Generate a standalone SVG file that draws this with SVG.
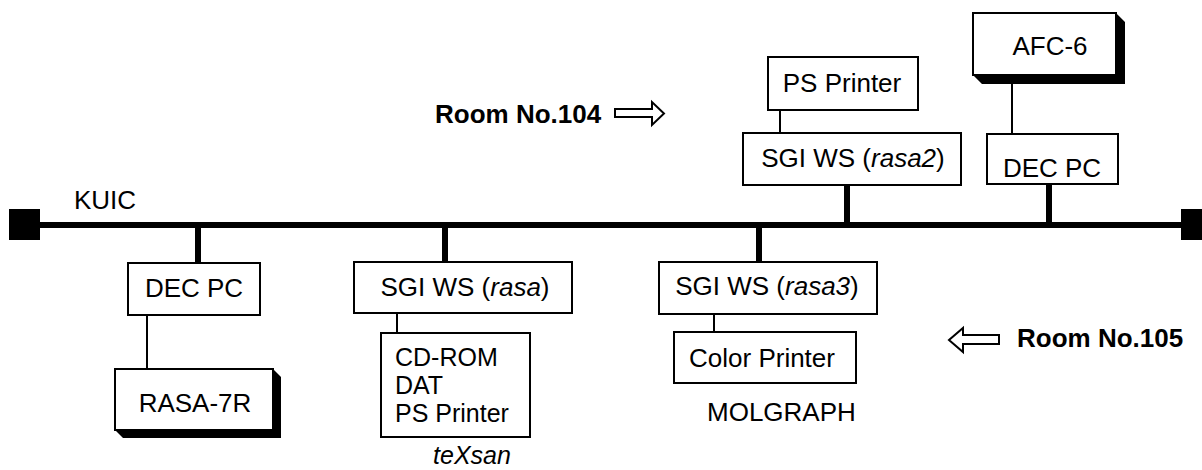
<svg xmlns="http://www.w3.org/2000/svg" width="1202" height="470" viewBox="0 0 1202 470">
<style>
text{font-family:"Liberation Sans",Arial,sans-serif;font-size:26px;fill:#000}
.b{font-weight:bold}
.s{font-size:25px}
.box{fill:#fff;stroke:#000;stroke-width:2}
.thick{stroke:#000;stroke-width:6;fill:none}
.thin{stroke:#000;stroke-width:2;fill:none}
.arr{fill:#fff;stroke:#000;stroke-width:2;stroke-linejoin:miter}
</style>
<rect width="1202" height="470" fill="#fff"/>
<g id="connectors">
<line class="thick" x1="40" y1="225" x2="1183" y2="225"/>
<line class="thick" x1="198" y1="225" x2="198" y2="263"/>
<line class="thick" x1="445" y1="225" x2="445" y2="262"/>
<line class="thick" x1="759" y1="225" x2="759" y2="262"/>
<line class="thick" x1="847" y1="225" x2="847" y2="185"/>
<line class="thick" x1="1049" y1="225" x2="1049" y2="184"/>
<line class="thin" x1="147" y1="315" x2="147" y2="369"/>
<line class="thin" x1="397" y1="313" x2="397" y2="333"/>
<line class="thin" x1="714" y1="314" x2="714" y2="332"/>
<line class="thin" x1="780" y1="110" x2="780" y2="133"/>
<line class="thin" x1="1012" y1="84" x2="1012" y2="134"/>
</g>
<g id="term-left"><rect x="9" y="209" width="31" height="31" fill="#000"/></g>
<g id="term-right"><rect x="1181" y="209" width="31" height="31" fill="#000"/></g>
<g id="kuic"><text x="74" y="209">KUIC</text></g>
<g id="decpc-left">
<rect class="box" x="128" y="263" width="132" height="52"/>
<text x="194" y="297" text-anchor="middle">DEC PC</text>
</g>
<g id="rasa7r">
<polygon points="273,369 281,377 281,438 123,438 115,430 273,430" fill="#000"/>
<rect class="box" x="115" y="369" width="158" height="61"/>
<text x="195" y="412" text-anchor="middle">RASA-7R</text>
</g>
<g id="sgi-rasa">
<rect class="box" x="354" y="262" width="218" height="51"/>
<text x="465" y="296" text-anchor="middle">SGI WS (<tspan font-style="italic">rasa</tspan>)</text>
</g>
<g id="texsan-devices">
<rect class="box" x="381" y="333" width="149" height="104"/>
<text class="s" x="395" y="366">CD-ROM</text>
<text class="s" x="395" y="394">DAT</text>
<text class="s" x="395" y="422">PS Printer</text>
</g>
<g id="texsan"><text class="s" x="472" y="464" text-anchor="middle" font-style="italic">teXsan</text></g>
<g id="sgi-rasa3">
<rect class="box" x="659" y="262" width="218" height="52"/>
<text x="767" y="295" text-anchor="middle">SGI WS (<tspan font-style="italic">rasa3</tspan>)</text>
</g>
<g id="color-printer">
<rect class="box" x="674" y="332" width="182" height="51"/>
<text x="762" y="367" text-anchor="middle">Color Printer</text>
</g>
<g id="molgraph"><text x="707" y="421">MOLGRAPH</text></g>
<g id="ps-printer">
<rect class="box" x="768" y="57" width="150" height="53"/>
<text x="842" y="92" text-anchor="middle">PS Printer</text>
</g>
<g id="sgi-rasa2">
<rect class="box" x="743" y="133" width="218" height="52"/>
<text x="853" y="167" text-anchor="middle">SGI WS (<tspan font-style="italic">rasa2</tspan>)</text>
</g>
<g id="afc6">
<polygon points="1116,13 1125,22 1125,84 982,84 973,75 1116,75" fill="#000"/>
<rect class="box" x="973" y="13" width="143" height="62"/>
<text x="1050" y="55" text-anchor="middle">AFC-6</text>
</g>
<g id="decpc-right">
<rect class="box" x="987" y="134" width="131" height="50"/>
<text x="1052" y="177" text-anchor="middle">DEC PC</text>
</g>
<g id="room104">
<text class="b" x="435" y="123">Room No.104</text>
<polygon class="arr" points="615,109 652,109 652,102 664,113.5 652,125 652,117 615,117"/>
</g>
<g id="room105">
<text class="b" x="1017" y="347">Room No.105</text>
<polygon class="arr" points="999,335 963,335 963,328 949,340 963,352 963,344 999,344"/>
</g>
</svg>
